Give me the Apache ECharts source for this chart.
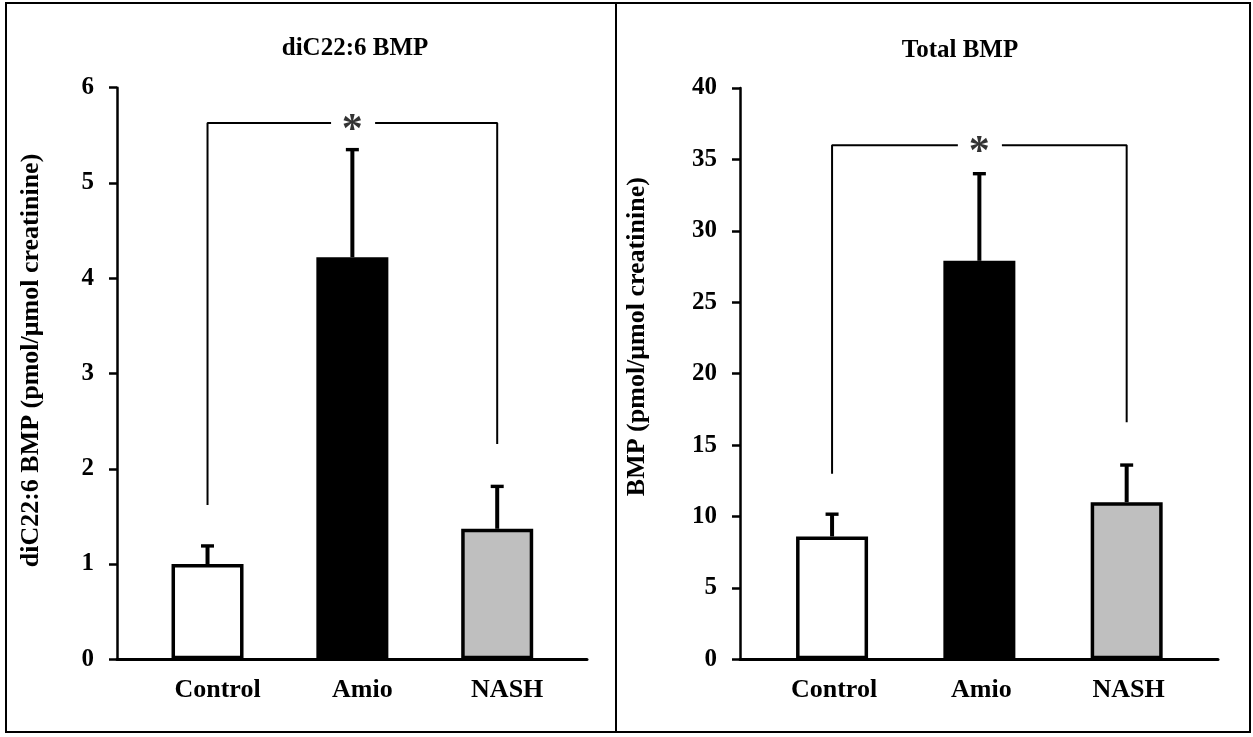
<!DOCTYPE html>
<html>
<head>
<meta charset="utf-8">
<script src="https://cdn.jsdelivr.net/npm/echarts@6/dist/echarts.min.js"></script>
<style>
html,body{margin:0;padding:0;background:#fff;}
#chart{width:1253px;height:737px;}
</style>
</head>
<body>
<div id="chart"></div>
<script>
// ---- data ----
const categories = ['Control', 'Amio', 'NASH'];
const categoryPos = [1, 2, 3];

const leftTitle = 'diC22:6 BMP';
const leftYName = 'diC22:6 BMP (pmol/\u03bcmol creatinine)';
const leftMeans = [1.0, 4.22, 1.37];
const leftUpper = [1.19, 5.35, 1.815];
const leftBracketLeftLeg = [[1, 1.62], [1, 5.63], [1.853, 5.63]];
const leftBracketRightLeg = [[2.157, 5.63], [3, 5.63], [3, 2.26]];
const leftStar = [[2, 5.63]];

const rightTitle = 'Total BMP';
const rightYName = 'BMP (pmol/\u03bcmol creatinine)';
const rightMeans = [8.6, 27.9, 11.0];
const rightUpper = [10.16, 34.0, 13.6];
const rightBracketLeftLeg = [[1, 13.0], [1, 36.0], [1.854, 36.0]];
const rightBracketRightLeg = [[2.153, 36.0], [3, 36.0], [3, 16.6]];
const rightStar = [[2, 36.0]];

const barColors = ['#ffffff', '#000000', '#bfbfbf'];

// ---- chart ----
const FONT = '"Liberation Serif", "Times New Roman", serif';
const chart = echarts.init(document.getElementById('chart'));

function barData(means) {
  return means.map((v, i) => ({
    value: [categoryPos[i], v],
    itemStyle: { color: barColors[i], borderColor: '#000', borderWidth: 3.5 }
  }));
}
function errData(means, upper) {
  return means.map((v, i) => [categoryPos[i], v, upper[i]]);
}
function errRender(params, api) {
  const x = api.value(0);
  const p0 = api.coord([x, api.value(1)]);
  const p1 = api.coord([x, api.value(2)]);
  return {
    type: 'group',
    children: [
      { type: 'line', shape: { x1: p0[0], y1: p0[1], x2: p1[0], y2: p1[1] },
        style: { stroke: '#000', lineWidth: 4 } },
      { type: 'line', shape: { x1: p1[0] - 6.5, y1: p1[1], x2: p1[0] + 6.5, y2: p1[1] },
        style: { stroke: '#000', lineWidth: 3.4 } }
    ]
  };
}
function xAxisDef(gridIndex, padLeft) {
  return {
    type: 'value', gridIndex, min: 0.375, max: 3.62,
    axisLine: { show: true, lineStyle: { color: '#000', width: 3 } },
    axisTick: { show: false },
    splitLine: { show: false },
    axisLabel: {
      customValues: categoryPos,
      formatter: v => categories[Math.round(v) - 1] || '',
      color: '#000', fontFamily: FONT, fontWeight: 'bold', fontSize: 26,
      margin: 18, padding: [0, 0, 0, padLeft]
    }
  };
}
function yAxisDef(gridIndex, max, interval, name, nameGap, namePad) {
  return {
    type: 'value', gridIndex, min: 0, max, interval,
    name, nameLocation: 'middle', nameGap, nameRotate: 90,
    nameTextStyle: { color: '#000', fontFamily: FONT, fontWeight: 'bold', fontSize: 26,
      padding: [0, 0, 0, namePad] },
    axisLine: { show: true, lineStyle: { color: '#000', width: 2.5 } },
    axisTick: { show: true, inside: false, length: 8, lineStyle: { color: '#000', width: 2.5 } },
    splitLine: { show: false },
    axisLabel: { color: '#000', fontFamily: FONT, fontWeight: 'bold', fontSize: 25, margin: 23 }
  };
}
function bracketSeries(idx, data) {
  return {
    type: 'line', xAxisIndex: idx, yAxisIndex: idx, data,
    symbol: 'none', silent: true, animation: false,
    lineStyle: { color: '#000', width: 2 }, z: 1
  };
}
function starSeries(idx, data) {
  return {
    type: 'scatter', xAxisIndex: idx, yAxisIndex: idx, data,
    symbolSize: 1, itemStyle: { color: 'rgba(0,0,0,0)' }, silent: true,
    label: { show: true, position: 'inside', formatter: '*', color: '#000',
      fontFamily: FONT, fontWeight: 'bold', fontSize: 42, offset: [0, 8] }
  };
}

const option = {
  backgroundColor: '#fff',
  animation: false,
  title: [
    { text: leftTitle, left: 355, top: 36, textAlign: 'center', padding: 0,
      textStyle: { color: '#000', fontFamily: FONT, fontWeight: 'bold', fontSize: 25 } },
    { text: rightTitle, left: 960, top: 38, textAlign: 'center', padding: 0,
      textStyle: { color: '#000', fontFamily: FONT, fontWeight: 'bold', fontSize: 25 } }
  ],
  grid: [
    { left: 117, right: 666, top: 87.7, bottom: 77.7 },
    { left: 740, right: 35, top: 88, bottom: 77.7 }
  ],
  xAxis: [xAxisDef(0, 20), xAxisDef(1, 4)],
  yAxis: [
    yAxisDef(0, 6, 1, leftYName, 73, 26),
    yAxisDef(1, 40, 5, rightYName, 90, 74)
  ],
  graphic: [
    { type: 'rect', shape: { x: 6, y: 3, width: 1244, height: 729 },
      style: { fill: 'none', stroke: '#000', lineWidth: 2 }, silent: true },
    { type: 'line', shape: { x1: 616, y1: 3, x2: 616, y2: 732 },
      style: { stroke: '#000', lineWidth: 2 }, silent: true }
  ],
  series: [
    { type: 'bar', xAxisIndex: 0, yAxisIndex: 0, barWidth: 72, data: barData(leftMeans), z: 2 },
    { type: 'custom', xAxisIndex: 0, yAxisIndex: 0, renderItem: errRender,
      data: errData(leftMeans, leftUpper), z: 3, encode: { x: 0, y: [1, 2] } },
    bracketSeries(0, leftBracketLeftLeg),
    bracketSeries(0, leftBracketRightLeg),
    starSeries(0, leftStar),

    { type: 'bar', xAxisIndex: 1, yAxisIndex: 1, barWidth: 72, data: barData(rightMeans), z: 2 },
    { type: 'custom', xAxisIndex: 1, yAxisIndex: 1, renderItem: errRender,
      data: errData(rightMeans, rightUpper), z: 3, encode: { x: 0, y: [1, 2] } },
    bracketSeries(1, rightBracketLeftLeg),
    bracketSeries(1, rightBracketRightLeg),
    starSeries(1, rightStar)
  ]
};
chart.setOption(option);
</script>
</body>
</html>
